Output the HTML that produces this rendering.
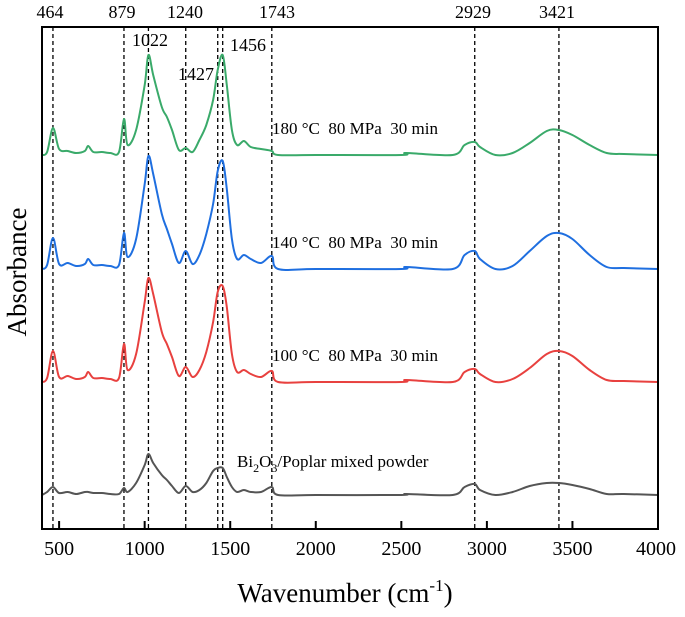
<!DOCTYPE html>
<html><head><meta charset="utf-8"><style>
body{margin:0;background:#fff}
svg text{font-family:"Liberation Serif",serif;fill:#000;white-space:pre}
</style></head><body>
<svg id="chart" width="685" height="612" viewBox="0 0 685 612" xmlns="http://www.w3.org/2000/svg">
<g id="dash"></g><g id="lines"></g><g id="ann"></g>
<rect x="42" y="27" width="616" height="502" fill="none" stroke="#000" stroke-width="2"/>
<g id="ticks"></g>
<text x="0" y="0" font-size="27" text-anchor="middle" transform="translate(26,272) rotate(-90)">Absorbance</text>
<text x="345" y="602" font-size="27" text-anchor="middle">Wavenumber (cm<tspan font-size="17" dy="-11">-1</tspan><tspan dy="11">)</tspan></text>
</svg>
<script>
const wn=[400,430,464,500,550,600,650,670,700,750,800,850,879,900,950,1000,1022,1050,1100,1130,1160,1200,1240,1280,1320,1360,1400,1427,1456,1480,1510,1540,1580,1620,1680,1743,1780,2000,2500,2530,2800,2870,2929,2960,3050,3150,3250,3350,3421,3500,3600,3700,3800,4000];
const green=[0,3,27,6,4,2,4,9,3,3,2,3,36,10,25,70,100,80,48,38,25,5,7,3,15,30,55,85,100,70,25,10,14,8,6,4,0,0,0,2,0,10,13,8,0,2,12,24,25,20,10,2,1,0];
const blue=[0,4,31,5,6,3,5,10,4,4,3,4,36,12,30,85,113,95,55,40,25,6,18,5,14,35,65,98,108,80,30,10,14,10,6,13,0,0,0,2,0,14,18,10,0,3,18,33,36,30,14,2,1,0];
const red=[0,4,31,5,6,3,5,10,4,4,3,4,38,12,28,80,104,88,50,38,25,6,15,5,12,30,60,90,96,75,28,10,12,8,5,11,0,0,0,2,0,10,13,8,0,3,14,28,31,26,12,2,1,0];
const gray=[0,3,8,2,3,1,3,3,2,2,1,1,7,3,12,30,41,32,20,15,9,2,9,3,5,12,24,27,27,18,8,3,5,3,3,8,0,0,0,1,0,8,11,5,0,3,9,12,12,10,6,1,1,0];
const seriesNames=["green","blue","red","gray"];
const seriesData=[green,blue,red,gray];
const seriesColors=["#3aaa6a","#1f6fe0","#e8413f","#555555"];
const baselines=[3.74,2.60,1.47,0.34];
const seriesLabels=["180 °C  80 MPa  30 min","140 °C  80 MPa  30 min","100 °C  80 MPa  30 min",""];
const peaks=[464,879,1022,1240,1427,1456,1743,2929,3421];
const xTicks=[500,1000,1500,2000,2500,3000,3500,4000];
const X=v=>42+(v-400)*616/3600;
const Y=v=>529-v*100;
const NS="http://www.w3.org/2000/svg";
function mk(tag,attrs,parent){const e=document.createElementNS(NS,tag);for(const k in attrs)e.setAttribute(k,attrs[k]);document.getElementById(parent).appendChild(e);return e;}
function smooth(p){let d='M'+p[0][0].toFixed(1)+','+p[0][1].toFixed(1);
 for(let i=0;i<p.length-1;i++){const a=p[Math.max(0,i-1)],b=p[i],c=p[i+1],e=p[Math.min(p.length-1,i+2)];
  const c1=[b[0]+(c[0]-a[0])/6,b[1]+(c[1]-a[1])/6],c2=[c[0]-(e[0]-b[0])/6,c[1]-(e[1]-b[1])/6];
  d+=' C'+c1.map(v=>v.toFixed(1)).join(',')+' '+c2.map(v=>v.toFixed(1)).join(',')+' '+c[0].toFixed(1)+','+c[1].toFixed(1);}
 return d;}
peaks.forEach(p=>{
 const l=mk('line',{x1:X(p),x2:X(p),y1:27,y2:529,stroke:'#000','stroke-width':1.3,'stroke-dasharray':'4,3'},'dash');
 
 
});
seriesData.forEach((d,i)=>{
 const pts=wn.map((w,j)=>[X(w),Y(baselines[i]+d[j]/100)]);
 const pl=mk('path',{d:smooth(pts),fill:'none',stroke:seriesColors[i],'stroke-width':2,'stroke-linejoin':'round'},'lines');
 
 
 if(seriesLabels[i]){
  const t=mk('text',{x:272,y:Y(baselines[i])-21,'font-size':17},'ann');t.textContent=seriesLabels[i];
  
  
 }
});
const g=document.getElementById('ann');
g.insertAdjacentHTML('beforeend','<text x="237" y="467" font-size="17">Bi<tspan font-size="12" dy="5">2</tspan><tspan dy="-5">O</tspan><tspan font-size="12" dy="5">3</tspan><tspan dy="-5">/Poplar mixed powder</tspan></text>');
const topLab=[[464,50,18],[879,122,18],[1240,185,18],[1743,277,18],[2929,473,18],[3421,557,18],[1022,150,46],[1427,196,80],[1456,248,51]];
topLab.forEach(a=>{const t=mk('text',{x:a[1],y:a[2],'font-size':18,'text-anchor':'middle'},'ann');t.textContent=a[0];
 
 });
xTicks.forEach(v=>{
 const l=mk('line',{x1:X(v),x2:X(v),y1:529,y2:521,stroke:'#000','stroke-width':2},'ticks');
 
 
 const t=mk('text',{x:v===4000?X(v)-2:X(v),y:555,'font-size':20,'text-anchor':'middle'},'ticks');t.textContent=v;
 
 
});
</script>
</body></html>
